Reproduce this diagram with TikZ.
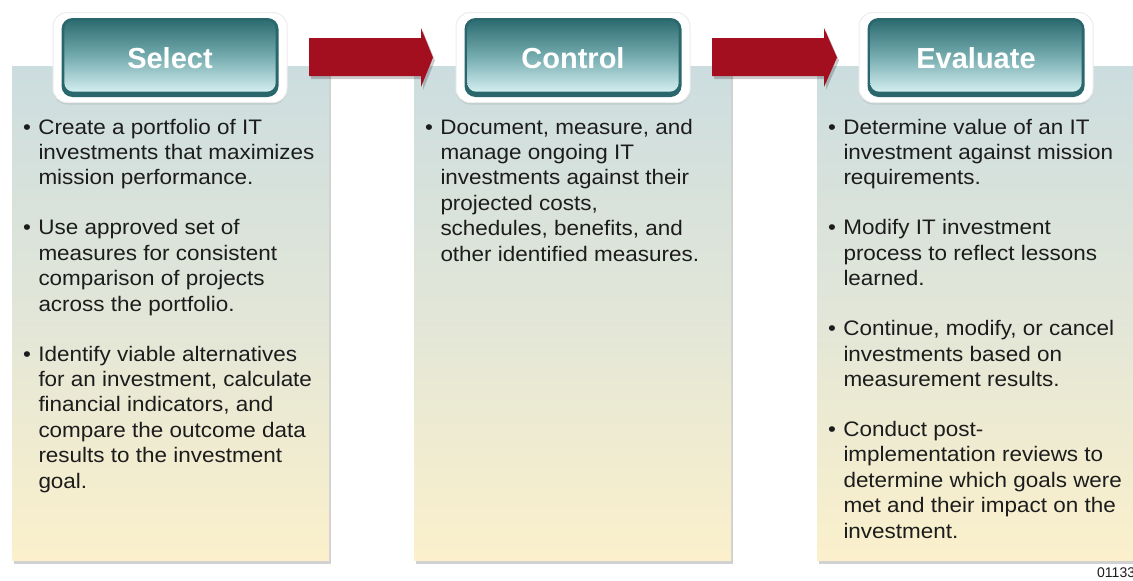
\documentclass[tikz,border=0pt]{standalone}
\usepackage{fontspec}
\setmainfont{Liberation Sans}
\newfontfamily\bodyfont[FakeStretch=1.07]{Liberation Sans}
\usetikzlibrary{shadows}
\definecolor{tealdark}{HTML}{2A676C}
\definecolor{tealtop}{HTML}{2E6D72}
\definecolor{tealmid}{HTML}{74ABAE}
\definecolor{teallight}{HTML}{D3EEF0}
\definecolor{paneltop}{HTML}{CCDDDF}
\definecolor{panelmid}{HTML}{E2E6D8}
\definecolor{panelbot}{HTML}{FBF0CB}
\definecolor{arrowred}{HTML}{A30F1E}
\definecolor{bodytext}{HTML}{1C1C1C}
\newcommand{\mybul}{\makebox[15.3pt][l]{•}}
\newcommand{\myind}{\hspace*{15.3pt}}
\tikzset{
  panel/.style={anchor=north west, inner sep=0pt, minimum width=317pt, minimum height=494pt,
    top color=paneltop, bottom color=panelbot, middle color=panelmid,
    drop shadow={shadow xshift=2pt, shadow yshift=-4pt, opacity=0.18, fill=black}},
  btnglow/.style={inner sep=0pt, minimum width=234pt, minimum height=90pt, rounded corners=14pt,
    fill=white, draw=black!7, line width=1pt,
    drop shadow={shadow xshift=0pt, shadow yshift=-2pt, opacity=0.08, fill=black}},
  btnedge/.style={inner sep=0pt, minimum width=217pt, minimum height=79pt, rounded corners=11pt,
    fill=tealdark},
  btnface/.style={rounded corners=9pt, top color=tealtop, bottom color=teallight, middle color=tealmid},
  title/.style={font=\fontsize{29}{30}\selectfont\bfseries, text=white, inner sep=0pt},
  textblock/.style={anchor=north west, inner sep=0pt, align=left, text=bodytext,
    font=\bodyfont\fontsize{21}{25.4}\selectfont},
  bigarrow/.style={fill=arrowred,
    drop shadow={shadow xshift=2pt, shadow yshift=-3pt, opacity=0.2, fill=black}},
}
\begin{document}
\begin{tikzpicture}[x=1pt,y=-1pt]
\useasboundingbox (0,0) rectangle (1133,581);
\fill[white] (0,0) rectangle (1133,581);

% panels
\node[panel] (p1) at (12,66) {};
\node[panel] (p2) at (414,66) {};
\node[panel] (p3) at (817,66) {};

% buttons
\foreach \cx/\nm/\lab in {170/b1/Select, 573/b2/Control, 976/b3/Evaluate}{
  \node[btnglow] (\nm g) at (\cx,57.5) {};
  \node[btnedge] (\nm) at (\cx,57.5) {};
  \path[btnface] ([xshift=3pt,yshift=-2.5pt]\nm.north west) rectangle ([xshift=-3pt,yshift=5.5pt]\nm.south east);
  \node[title] (\nm t) at (\cx,58) {\lab};
}

% arrows
\path[bigarrow] (309,38) -- (421,38) -- (421,28) -- (433,57.5) -- (421,87) -- (421,76) -- (309,76) -- cycle;
\path[bigarrow] (712,38) -- (824,38) -- (824,28) -- (837,57.5) -- (824,87) -- (824,76) -- (712,76) -- cycle;

% texts
\node[textblock] (t1) at (23,116.2) {\strut\mybul Create a portfolio of IT\\
\myind investments that maximizes\\
\myind mission performance.\\[24.6pt]
\mybul Use approved set of\\
\myind measures for consistent\\
\myind comparison of projects\\
\myind across the portfolio.\\[24.6pt]
\mybul Identify viable alternatives\\
\myind for an investment, calculate\\
\myind financial indicators, and\\
\myind compare the outcome data\\
\myind results to the investment\\
\myind goal.};

\node[textblock] (t2) at (425,116.2) {\strut\mybul Document, measure, and\\
\myind manage ongoing IT\\
\myind investments against their\\
\myind projected costs,\\
\myind schedules, benefits, and\\
\myind other identified measures.};

\node[textblock] (t3) at (828,116.2) {\strut\mybul Determine value of an IT\\
\myind investment against mission\\
\myind requirements.\\[24.6pt]
\mybul Modify IT investment\\
\myind process to reflect lessons\\
\myind learned.\\[24.6pt]
\mybul Continue, modify, or cancel\\
\myind investments based on\\
\myind measurement results.\\[24.6pt]
\mybul Conduct post-\\
\myind implementation reviews to\\
\myind determine which goals were\\
\myind met and their impact on the\\
\myind investment.};

\node[anchor=west, inner sep=0pt, font=\fontsize{14}{15}\selectfont, text=bodytext] (code) at (1097,573) {01133};
\end{tikzpicture}
\end{document}
